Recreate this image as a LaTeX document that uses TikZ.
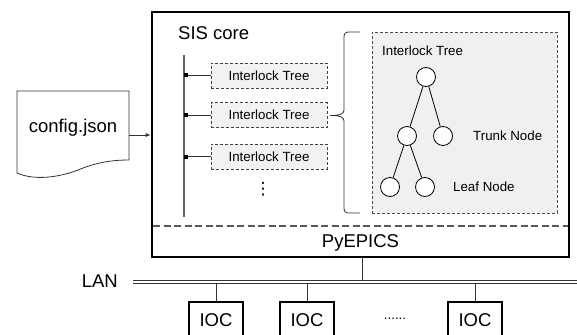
\documentclass[tikz,border=0pt]{standalone}
\usepackage{fontspec}
\setmainfont{Liberation Sans}
\newfontfamily\dejavu{DejaVu Sans}
\usetikzlibrary{arrows.meta}
\begin{document}
\begin{tikzpicture}[x=1pt,y=-1pt,
  every node/.style={inner sep=0pt},
  line/.style={draw=black!80, line width=0.8pt},
  bus/.style={draw=black!60, line width=1.3pt},
  dline/.style={draw=black!65, line width=1.2pt, dash pattern=on 7pt off 3.5pt},
  treebox/.style={draw=black!75, line width=0.8pt, dash pattern=on 3pt off 2pt, fill=black!5,
     minimum width=116pt, minimum height=25pt, font=\fontsize{13.3}{15}\selectfont},
  bigbox/.style={draw=black!70, line width=0.9pt, dash pattern=on 3pt off 2pt, fill=black!6,
     minimum width=185pt, minimum height=181pt},
  big/.style={font=\fontsize{18.5}{21}\selectfont},
  small/.style={font=\fontsize{13.3}{15}\selectfont},
  tnode/.style={circle, draw=black, line width=0.8pt, fill=white, minimum size=19pt},
  ioc/.style={draw=black, line width=2pt, minimum width=54pt, minimum height=36pt,
     font=\fontsize{18.5}{21}\selectfont},
  arr/.style={line, -{Latex[length=5pt,width=4pt]}}
]
\clip (0,0) rectangle (577,334);
\fill[white] (0,0) rectangle (577,334);

% core box
\node[draw=black, line width=2.6pt, minimum width=417pt, minimum height=245pt] (core) at (360.5,134.5) {};
\coordinate (d1) at (153,226);
\coordinate (d2) at (568,226);
\draw[dline] (d1) -- (d2);
\node[big] (py) at (360.5,243) {PyEPICS};
\node[big, anchor=west] (sis) at (178,33) {SIS core};

% bus
\coordinate (bt) at (184,55);
\coordinate (bb) at (184,217);
\draw[bus] (bt) -- (bb);

% interlock tree boxes
\node[treebox] (t1) at (269,75.5) {Interlock Tree};
\node[treebox] (t2) at (269,115) {Interlock Tree};
\node[treebox] (t3) at (269,156.5) {Interlock Tree};
\foreach \t in {t1,t2,t3}{
  \draw[line] (\t.west) -- (\t.west -| bt);
  \fill[black] (\t.west -| bt) ++(0,-2) rectangle ++(4,4);
}
\node (vd) at (263,189.5) {\dejavu\fontsize{17}{19}\selectfont ⋮};

% big tree box
\node[bigbox] (tree) at (464.5,122.5) {};
\node[small, anchor=west] (tl) at (382,51) {Interlock Tree};

% brace
\coordinate (bra) at (360,32);
\coordinate (brb) at (360,213);
\coordinate (brt) at (330,115.5);
\draw[line] (bra) -- (349,32) .. controls (345.5,32) and (344,33.5) .. (344,37) -- (344,110)
  .. controls (344,113.5) and (341,115.5) .. (brt)
  .. controls (341,115.5) and (344,117.5) .. (344,121) -- (344,208)
  .. controls (344,211.5) and (345.5,213) .. (349,213) -- (brb);

% tree
\node[tnode] (r) at (426,77) {};
\node[tnode] (a) at (407,136) {};
\node[tnode] (b) at (443,136) {};
\node[tnode] (c) at (390,187) {};
\node[tnode] (d) at (425,187) {};
\draw[line, draw=black] (r) -- (a);
\draw[line, draw=black] (r) -- (b);
\draw[line, draw=black] (a) -- (c);
\draw[line, draw=black] (a) -- (d);
\node[small, anchor=west] (trunk) at (473,136) {Trunk Node};
\node[small, anchor=west] (leaf) at (453,187) {Leaf Node};

% config.json document
\draw[line] (17,173) -- (17,91) -- (129,91) -- (129,160)
  .. controls (110,160) and (95,163) .. (78,170)
  .. controls (60,177) and (35,181) .. (17,173);
\node[big] (cfg) at (73,128) {config.json};
\coordinate (cfgR) at (129,135);
\draw[arr] (cfgR) -- (cfgR -| core.west);

% LAN
\node[big, anchor=east] (lan) at (118,281) {LAN};
\coordinate (la1) at (133,280);
\coordinate (la2) at (577,280);
\coordinate (lb1) at (133,283.5);
\coordinate (lb2) at (577,283.5);
\draw[line] (la1) -- (la2);
\draw[line] (lb1) -- (lb2);
\coordinate (pyb) at (362,257);
\draw[line] (pyb) -- (pyb |- la1);

% IOCs
\node[ioc] (io1) at (216,320) {IOC};
\node[ioc] (io2) at (307,320) {IOC};
\node[ioc] (io3) at (475,320) {IOC};
\node[small] (dd) at (395,319) {......};
\foreach \i in {io1,io2,io3}{
  \draw[line] (\i.north |- lb1) -- (\i.north);
}
\end{tikzpicture}
\end{document}
